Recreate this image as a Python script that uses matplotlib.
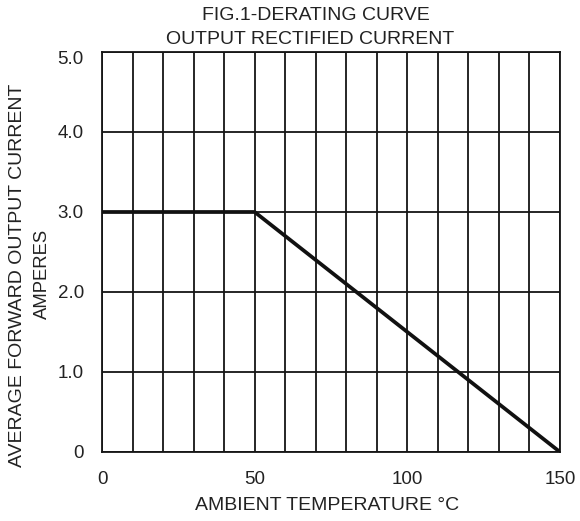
import matplotlib
matplotlib.use("Agg")
import matplotlib.pyplot as plt
from matplotlib.transforms import ScaledTranslation

temps = [0, 50, 150]
current = [3.0, 3.0, 0.0]
x_ticks = [0, 50, 100, 150]
x_tick_labels = ["0", "50", "100", "150"]
y_ticks = [0, 1, 2, 3, 4, 5]
y_tick_labels = ["0", "1.0", "2.0", "3.0", "4.0", "5.0"]
x_grid = list(range(0, 151, 10))

plt.rcParams['font.family'] = ['Liberation Sans', 'DejaVu Sans']
W, H = 580, 521
fig = plt.figure(figsize=(W/100, H/100), dpi=100)
ax = fig.add_axes([102/W, 1 - 452/H, (560-102)/W, (452-52)/H])
ax.set_xlim(0, 150)
ax.set_ylim(0, 5)
lc = '#151515'
for xv in x_grid:
    ax.axvline(xv, color=lc, lw=1.3, zorder=1)
for yv in y_ticks:
    ax.axhline(yv, color=lc, lw=1.3, zorder=1)
ax.plot(temps, current, color='#111111', lw=2.7, zorder=3, solid_capstyle='butt')
for s in ax.spines.values():
    s.set_linewidth(1.3)
    s.set_color(lc)
ax.set_xticks(x_ticks)
ax.set_xticklabels(x_tick_labels)
ax.set_yticks(y_ticks)
ax.set_yticklabels(y_tick_labels)
ax.tick_params(length=0, labelsize=13.5, colors='#222222')
ax.tick_params(axis='x', pad=14)
ax.tick_params(axis='y', pad=13)
top_lab = ax.get_yticklabels()[-1]
top_lab.set_transform(top_lab.get_transform() + ScaledTranslation(0, -5/100, fig.dpi_scale_trans))
tc = '#222222'
fig.text(316/W, 1 - 15/H, "FIG.1-DERATING CURVE", ha='center', va='center', fontsize=14, color=tc)
fig.text(310/W, 1 - 40/H, "OUTPUT RECTIFIED CURRENT", ha='center', va='center', fontsize=14, color=tc)
fig.text(327/W, 1 - 506/H, "AMBIENT TEMPERATURE °C", ha='center', va='center', fontsize=14, color=tc)
fig.text(18/W, 1 - 275/H, "AVERAGE FORWARD OUTPUT CURRENT", ha='center', va='center', rotation=90, fontsize=14, color=tc)
fig.text(42/W, 1 - 274/H, "AMPERES", ha='center', va='center', rotation=90, fontsize=13.3, color=tc)
fig.savefig("out.png", dpi=100)
